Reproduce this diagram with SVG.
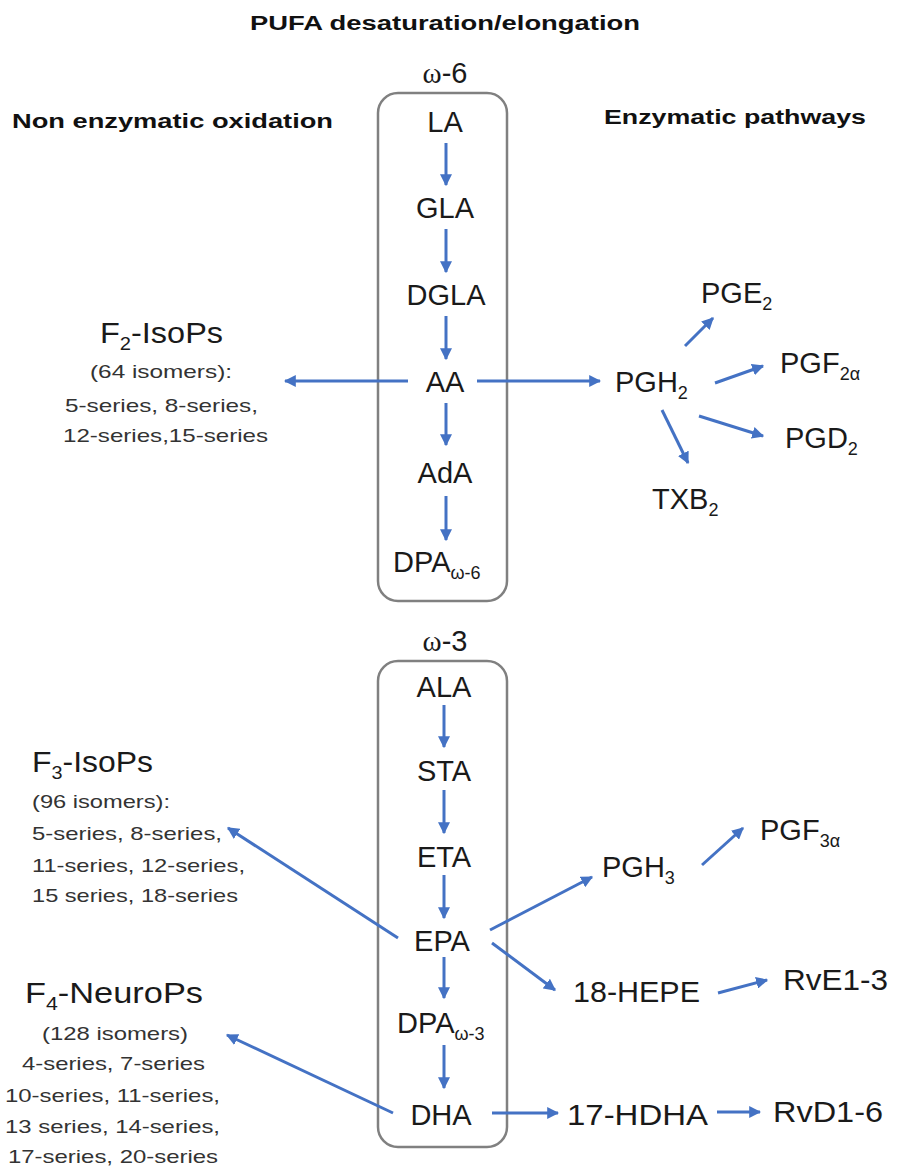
<svg xmlns="http://www.w3.org/2000/svg" width="913" height="1171" viewBox="0 0 913 1171">
<defs>
<marker id="ah" viewBox="0 0 10 10" refX="9" refY="5" markerWidth="4" markerHeight="4" orient="auto" markerUnits="strokeWidth">
<path d="M0,0 L10,5 L0,10 z" fill="#4472C4"/>
</marker>
<style>
.hdr{font-family:"Liberation Sans",Arial,sans-serif;font-weight:bold;font-size:20px;fill:#111}
.lbl{font-family:"Liberation Sans",Arial,sans-serif;font-size:29px;fill:#1a1a1a}
.sm{font-family:"Liberation Sans",Arial,sans-serif;font-size:19px;fill:#333}
.sub{font-size:18px}
.om{font-family:"Liberation Serif","Times New Roman",serif}
.box{fill:none;stroke:#808080;stroke-width:2.5}
.arr{stroke:#4472C4;stroke-width:3;fill:none;marker-end:url(#ah)}
</style>
</defs>
<rect width="913" height="1171" fill="#fff"/>

<g id="headers">
<text class="hdr" x="250" y="30" textLength="390" lengthAdjust="spacingAndGlyphs">PUFA desaturation/elongation</text>
<text class="hdr" x="12" y="128" textLength="321" lengthAdjust="spacingAndGlyphs">Non enzymatic oxidation</text>
<text class="hdr" x="604" y="124" textLength="262" lengthAdjust="spacingAndGlyphs">Enzymatic pathways</text>
</g>

<g id="omega6">
<text class="lbl" x="445" y="83" text-anchor="middle"><tspan class="om">ω</tspan>-6</text>
<rect class="box" x="378" y="93" width="129" height="508" rx="20"/>
</g>
<g id="omega3">
<text class="lbl" x="445" y="651" text-anchor="middle"><tspan class="om">ω</tspan>-3</text>
<rect class="box" x="378" y="661" width="129" height="486" rx="20"/>
</g>

<g id="LA"><text class="lbl" x="445" y="132" text-anchor="middle">LA</text></g>
<g id="GLA"><text class="lbl" x="445" y="218" text-anchor="middle">GLA</text></g>
<g id="DGLA"><text class="lbl" x="446" y="305" text-anchor="middle">DGLA</text></g>
<g id="AA"><text class="lbl" x="445" y="392" text-anchor="middle">AA</text></g>
<g id="AdA"><text class="lbl" x="445" y="483" text-anchor="middle">AdA</text></g>
<g id="DPA6"><text class="lbl" x="393" y="572">DPA<tspan class="sub" dy="7">ω-6</tspan></text></g>

<g id="ALA"><text class="lbl" x="444" y="697" text-anchor="middle">ALA</text></g>
<g id="STA"><text class="lbl" x="444" y="781" text-anchor="middle">STA</text></g>
<g id="ETA"><text class="lbl" x="444" y="867" text-anchor="middle">ETA</text></g>
<g id="EPA"><text class="lbl" x="442" y="951" text-anchor="middle">EPA</text></g>
<g id="DPA3"><text class="lbl" x="397" y="1033">DPA<tspan class="sub" dy="7">ω-3</tspan></text></g>
<g id="DHA"><text class="lbl" x="441" y="1125" text-anchor="middle">DHA</text></g>

<g id="PGH2"><text class="lbl" x="615" y="392">PGH<tspan class="sub" dy="7">2</tspan></text></g>
<g id="PGE2"><text class="lbl" x="701" y="303">PGE<tspan class="sub" dy="7">2</tspan></text></g>
<g id="PGF2a"><text class="lbl" x="780" y="373">PGF<tspan class="sub" dy="7">2α</tspan></text></g>
<g id="PGD2"><text class="lbl" x="785" y="448">PGD<tspan class="sub" dy="7">2</tspan></text></g>
<g id="TXB2"><text class="lbl" x="652" y="509">TXB<tspan class="sub" dy="7">2</tspan></text></g>

<g id="PGH3"><text class="lbl" x="602" y="877">PGH<tspan class="sub" dy="7">3</tspan></text></g>
<g id="PGF3a"><text class="lbl" x="760" y="840">PGF<tspan class="sub" dy="7">3α</tspan></text></g>
<g id="HEPE"><text class="lbl" x="573" y="1002" textLength="127" lengthAdjust="spacingAndGlyphs">18-HEPE</text></g>
<g id="RvE"><text class="lbl" x="783" y="990" textLength="105" lengthAdjust="spacingAndGlyphs">RvE1-3</text></g>
<g id="HDHA"><text class="lbl" x="567" y="1125" textLength="141" lengthAdjust="spacingAndGlyphs">17-HDHA</text></g>
<g id="RvD"><text class="lbl" x="773" y="1122" textLength="110" lengthAdjust="spacingAndGlyphs">RvD1-6</text></g>

<g id="F2IsoPs">
<text class="lbl" x="100" y="343" font-size="30" textLength="123" lengthAdjust="spacingAndGlyphs">F<tspan class="sub" dy="7">2</tspan><tspan dy="-7">-IsoPs</tspan></text>
<text class="sm" x="90" y="378" textLength="142" lengthAdjust="spacingAndGlyphs">(64 isomers):</text>
<text class="sm" x="65" y="412" textLength="193" lengthAdjust="spacingAndGlyphs">5-series, 8-series,</text>
<text class="sm" x="63" y="442" textLength="205" lengthAdjust="spacingAndGlyphs">12-series,15-series</text>
</g>

<g id="F3IsoPs">
<text class="lbl" x="32" y="772" font-size="30" textLength="121" lengthAdjust="spacingAndGlyphs">F<tspan class="sub" dy="7">3</tspan><tspan dy="-7">-IsoPs</tspan></text>
<text class="sm" x="32" y="808" textLength="138" lengthAdjust="spacingAndGlyphs">(96 isomers):</text>
<text class="sm" x="32" y="840" textLength="190" lengthAdjust="spacingAndGlyphs">5-series, 8-series,</text>
<text class="sm" x="32" y="872" textLength="213" lengthAdjust="spacingAndGlyphs">11-series, 12-series,</text>
<text class="sm" x="32" y="902" textLength="206" lengthAdjust="spacingAndGlyphs">15 series, 18-series</text>
</g>

<g id="F4NeuroPs">
<text class="lbl" x="25" y="1003" font-size="30" textLength="178" lengthAdjust="spacingAndGlyphs">F<tspan class="sub" dy="7">4</tspan><tspan dy="-7">-NeuroPs</tspan></text>
<text class="sm" x="42" y="1040" textLength="146" lengthAdjust="spacingAndGlyphs">(128 isomers)</text>
<text class="sm" x="22" y="1070" textLength="183" lengthAdjust="spacingAndGlyphs">4-series, 7-series</text>
<text class="sm" x="5" y="1102" textLength="215" lengthAdjust="spacingAndGlyphs">10-series, 11-series,</text>
<text class="sm" x="5" y="1133" textLength="215" lengthAdjust="spacingAndGlyphs">13 series, 14-series,</text>
<text class="sm" x="8" y="1163" textLength="210" lengthAdjust="spacingAndGlyphs">17-series, 20-series</text>
</g>

<g id="connectors">
<line class="arr" x1="446" y1="143" x2="446" y2="185"/>
<line class="arr" x1="446" y1="229" x2="446" y2="272"/>
<line class="arr" x1="446" y1="316" x2="446" y2="359"/>
<line class="arr" x1="446" y1="403" x2="446" y2="445"/>
<line class="arr" x1="446" y1="496" x2="446" y2="540"/>
<line class="arr" x1="444" y1="705" x2="444" y2="747"/>
<line class="arr" x1="444" y1="790" x2="444" y2="833"/>
<line class="arr" x1="444" y1="875" x2="444" y2="918"/>
<line class="arr" x1="444" y1="957" x2="444" y2="998"/>
<line class="arr" x1="444" y1="1045" x2="444" y2="1088"/>
<line class="arr" x1="408" y1="381" x2="285" y2="381"/>
<line class="arr" x1="477" y1="381" x2="600" y2="381"/>
<line class="arr" x1="685" y1="346" x2="713" y2="318"/>
<line class="arr" x1="715" y1="383" x2="763" y2="366"/>
<line class="arr" x1="699" y1="416" x2="763" y2="436"/>
<line class="arr" x1="662" y1="410" x2="688" y2="463"/>
<line class="arr" x1="398" y1="938" x2="228" y2="828"/>
<line class="arr" x1="490" y1="930" x2="592" y2="877"/>
<line class="arr" x1="492" y1="943" x2="555" y2="990"/>
<line class="arr" x1="702" y1="865" x2="743" y2="828"/>
<line class="arr" x1="718" y1="993" x2="767" y2="980"/>
<line class="arr" x1="393" y1="1113" x2="227" y2="1035"/>
<line class="arr" x1="492" y1="1113" x2="558" y2="1113"/>
<line class="arr" x1="717" y1="1112" x2="760" y2="1112"/>
</g>
</svg>
